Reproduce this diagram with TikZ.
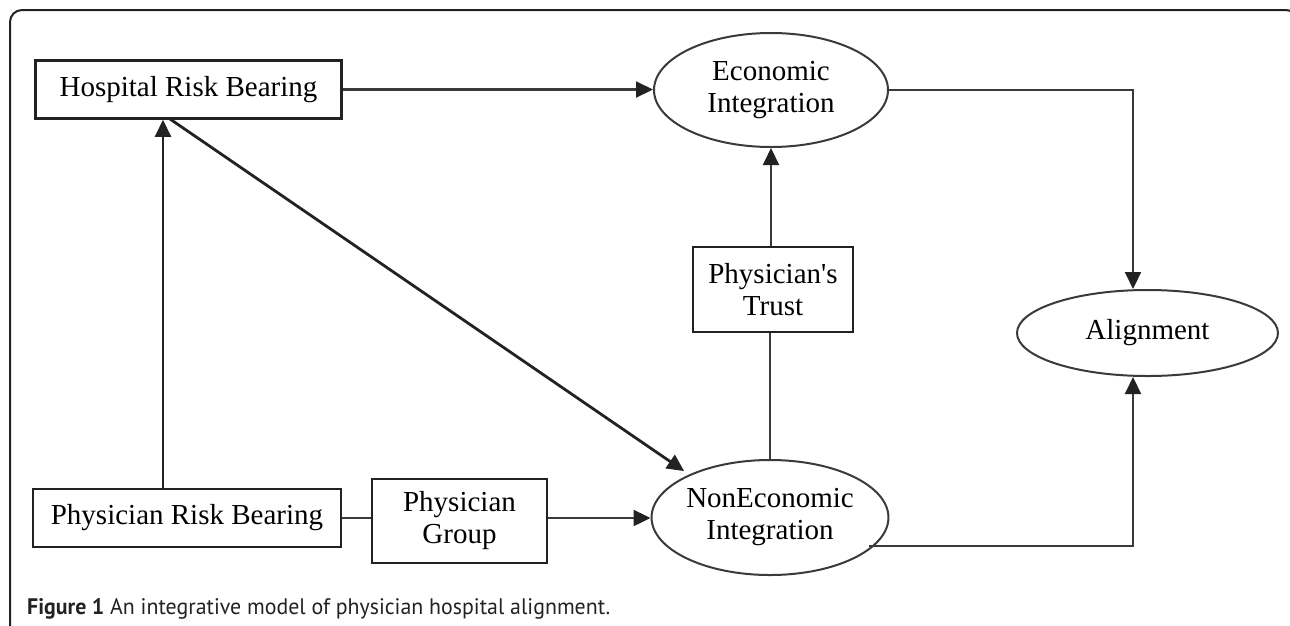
\documentclass[tikz,border=0pt]{standalone}
\usepackage{fontspec}
\newfontfamily\serif{Liberation Serif}
\newfontfamily\capfont{PT Sans}
\usetikzlibrary{arrows.meta,shapes.geometric,calc}
\definecolor{ink}{HTML}{222222}
\definecolor{wire}{HTML}{3A3A3A}
\begin{document}
\begin{tikzpicture}[x=1pt,y=-1pt,
  lbl/.style={font=\serif\fontsize{29}{32}\selectfont, align=center, text=black},
  box/.style={lbl, draw=ink, line width=2.6pt, rectangle, inner sep=0pt},
  oval/.style={lbl, draw=wire, line width=2pt, ellipse, inner sep=0pt},
  conn/.style={draw=wire, line width=2.1pt},
  arr/.style={conn, -{Triangle[length=17pt,width=16pt,color=ink]}},
  frame/.style={draw=ink, line width=2pt, rounded corners=12pt}
]
\useasboundingbox (0,0) rectangle (1290,625);
\begin{scope}
  \clip (0,0) rectangle (1290,625);
  \draw[frame] (10,660) -- (10,10) -- (1298,10) -- (1298,660);
\end{scope}

% nodes
\node[box, minimum width=306pt, minimum height=58pt] (HRB) at (188.5,89.5) {Hospital Risk Bearing};
\node[oval, minimum width=234pt, minimum height=114pt] (EI) at (771,90) {Economic\\Integration};
\node[box, minimum width=160pt, minimum height=85pt] (PT) at (773,289.5) {Physician's\\Trust};
\node[oval, minimum width=228pt, minimum height=115pt] (NEI) at (770,517.5) {NonEconomic\\Integration};
\node[oval, minimum width=261pt, minimum height=86pt] (AL) at (1147.5,333) {Alignment};
\node[box, minimum width=308pt, minimum height=58pt] (PRB) at (187,518) {Physician Risk Bearing};
\node[box, minimum width=175pt, minimum height=84pt] (PG) at (459.5,521) {Physician\\Group};

\node[anchor=base west, inner sep=0pt, text=ink, font=\capfont\fontsize{20}{24}\selectfont] (CAP) at (27,614)
  {\resizebox{583pt}{16pt}{\textbf{Figure 1} An integrative model of physician hospital alignment.}};

% helper coordinates
\coordinate (vx) at (163,0);
\coordinate (hd) at (170,119);
\coordinate (ax) at (1133,0);
\coordinate (ne) at ($(NEI.center)+(99,28.5)$);

% connectors
\draw[arr] (HRB.east) -- (HRB.east -| EI.west);
\draw[arr] (EI.east) -| (AL.north -| ax);
\draw[arr] (ne) -| (AL.south -| ax);
\draw[arr] (PT.north -| EI.south) -- (EI.south);
\draw[conn] (NEI.north) -- (NEI.north |- PT.south);
\draw[arr, line width=2.6pt, draw=ink] (PRB.north -| vx) -- (HRB.south -| vx);
\draw[arr, line width=2.8pt, draw=ink, shorten >=6pt] (hd) -- (NEI.152);
\draw[conn] (PRB.east) -- (PRB.east -| PG.west);
\draw[arr] (PRB.east -| PG.east) -- (PRB.east -| NEI.west);
\end{tikzpicture}
\end{document}
